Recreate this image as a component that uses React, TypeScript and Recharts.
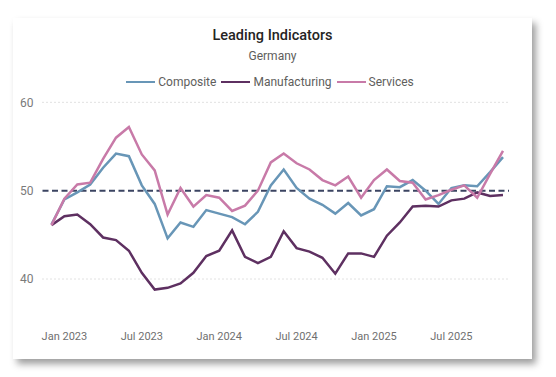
import { LineChart, Line, XAxis, YAxis, ReferenceLine } from 'recharts';

const months = [
  'Dec 2022',
  'Jan 2023', 'Feb 2023', 'Mar 2023', 'Apr 2023', 'May 2023', 'Jun 2023',
  'Jul 2023', 'Aug 2023', 'Sep 2023', 'Oct 2023', 'Nov 2023', 'Dec 2023',
  'Jan 2024', 'Feb 2024', 'Mar 2024', 'Apr 2024', 'May 2024', 'Jun 2024',
  'Jul 2024', 'Aug 2024', 'Sep 2024', 'Oct 2024', 'Nov 2024', 'Dec 2024',
  'Jan 2025', 'Feb 2025', 'Mar 2025', 'Apr 2025', 'May 2025', 'Jun 2025',
  'Jul 2025', 'Aug 2025', 'Sep 2025', 'Oct 2025', 'Nov 2025',
];

const composite = [
  46.2, 49.0, 49.8, 50.7, 52.6, 54.2, 53.9, 50.6, 48.5, 44.6,
  46.4, 45.9, 47.8, 47.4, 47.0, 46.2, 47.6, 50.6, 52.4, 50.3,
  49.1, 48.4, 47.4, 48.6, 47.2, 47.9, 50.5, 50.4, 51.2, 50.0,
  48.5, 50.3, 50.6, 50.5, 52.1, 53.8,
];

const manufacturing = [
  46.1, 47.1, 47.3, 46.2, 44.7, 44.4, 43.2, 40.7, 38.8, 39.0,
  39.5, 40.7, 42.6, 43.2, 45.5, 42.5, 41.8, 42.5, 45.4, 43.5,
  43.1, 42.4, 40.6, 42.9, 42.9, 42.5, 44.9, 46.4, 48.2, 48.3,
  48.2, 48.9, 49.1, 49.8, 49.4, 49.5,
];

const services = [
  46.1, 49.1, 50.7, 50.9, 53.6, 56.0, 57.2, 54.1, 52.3, 47.3,
  50.3, 48.2, 49.5, 49.2, 47.7, 48.3, 50.0, 53.2, 54.2, 53.1,
  52.4, 51.2, 50.6, 51.6, 49.2, 51.2, 52.4, 51.1, 50.9, 49.0,
  49.5, 50.1, 50.6, 49.2, 51.9, 54.5,
];

const xTicks = ['Jan 2023', 'Jul 2023', 'Jan 2024', 'Jul 2024', 'Jan 2025', 'Jul 2025'];
const yTicks = [40, 50, 60];
const gridValues = [40, 60];

const SERIES = [
  { key: 'composite', name: 'Composite', color: '#6896B7' },
  { key: 'manufacturing', name: 'Manufacturing', color: '#5E3061' },
  { key: 'services', name: 'Services', color: '#C87AA8' },
];

const data = months.map((month, i) => ({
  month,
  composite: composite[i],
  manufacturing: manufacturing[i],
  services: services[i],
}));

const FONT = 'Roboto, "Segoe UI", sans-serif';

export default function App() {
  return (
    <div style={{ position: 'absolute', left: 0, top: 0, width: 556, height: 377, background: '#fff', fontFamily: FONT }}>
      <div
        style={{
          position: 'absolute',
          left: 13,
          top: 18,
          width: 519,
          height: 341,
          background: '#fff',
          boxShadow: '4px 5px 7px rgba(0,0,0,0.38)',
        }}
      />
      <div
        style={{
          position: 'absolute',
          left: 13,
          width: 519,
          top: 27,
          lineHeight: '18px',
          textAlign: 'center',
          fontSize: 14.5,
          fontWeight: 500,
          color: '#252423',
        }}
      >
        Leading Indicators
      </div>
      <div
        style={{
          position: 'absolute',
          left: 13,
          width: 519,
          top: 49,
          lineHeight: '14px',
          textAlign: 'center',
          fontSize: 12,
          color: '#605E5C',
        }}
      >
        Germany
      </div>
      <div
        style={{
          position: 'absolute',
          left: 13,
          width: 519,
          top: 75,
          height: 14,
          display: 'flex',
          justifyContent: 'center',
          alignItems: 'center',
          fontSize: 12,
          color: '#605E5C',
        }}
      >
        {SERIES.map((s) => (
          <div key={s.key} style={{ display: 'flex', alignItems: 'center', marginRight: 5 }}>
            <span style={{ display: 'inline-block', width: 29, height: 2, background: s.color, marginRight: 3 }} />
            <span>{s.name}</span>
          </div>
        ))}
      </div>
      <div style={{ position: 'absolute', left: 0, top: 0 }}>
        <LineChart width={556} height={377} data={data} margin={{ top: 93.5, right: 47, bottom: 26.5, left: 0 }}>
          <XAxis
            dataKey="month"
            ticks={xTicks}
            interval={0}
            padding={{ left: 9, right: 6 }}
            axisLine={false}
            tickLine={false}
            tickSize={0}
            tickMargin={27}
            height={45}
            tick={{ fill: '#707070', fontSize: 11, fontFamily: FONT }}
          />
          <YAxis
            type="number"
            domain={[37, 61]}
            ticks={yTicks}
            allowDataOverflow
            axisLine={false}
            tickLine={false}
            tickSize={0}
            tickMargin={9}
            width={42.5}
            tick={{ fill: '#7a7a7a', fontSize: 12, fontFamily: FONT }}
          />
          {gridValues.map((v) => (
            <ReferenceLine key={v} y={v} stroke="#c4c4c4" strokeWidth={1} strokeDasharray="1 3" />
          ))}
          <ReferenceLine y={50} stroke="#3B4462" strokeWidth={2} strokeDasharray="6 3.5" />
          {SERIES.map((s) => (
            <Line
              key={s.key}
              type="linear"
              dataKey={s.key}
              name={s.name}
              stroke={s.color}
              strokeWidth={2.5}
              dot={false}
              activeDot={false}
              isAnimationActive={false}
            />
          ))}
        </LineChart>
      </div>
    </div>
  );
}
